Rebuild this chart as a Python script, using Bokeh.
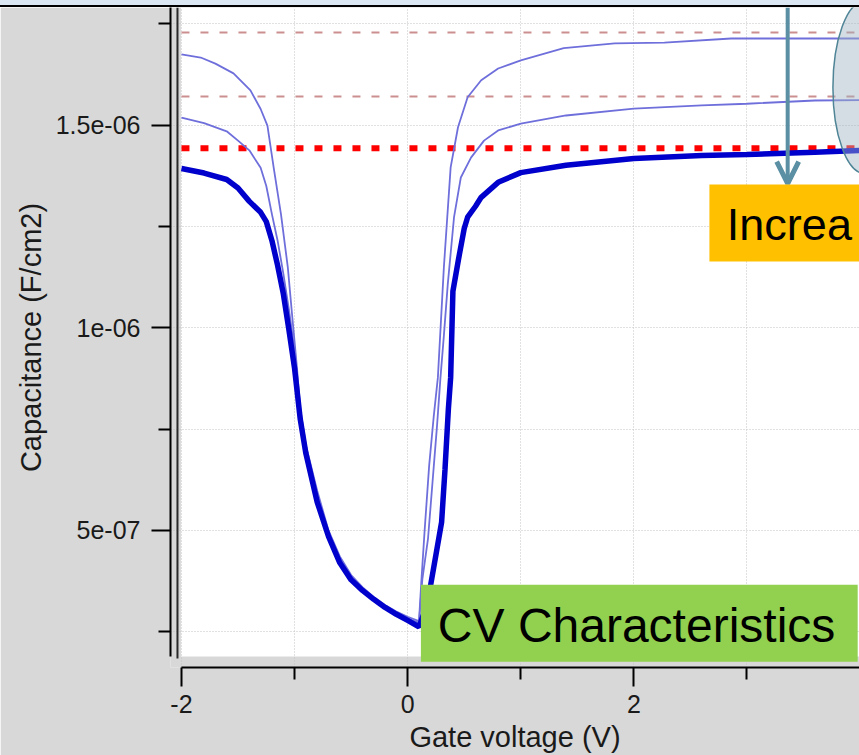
from bokeh.plotting import figure
from bokeh.layouts import column
from bokeh.models import (FixedTicker, Range1d, BoxAnnotation, Label, Arrow, OpenHead, Div)
from bokeh.embed import file_html
from bokeh.resources import INLINE

# ---------------- data ----------------
# thick curve (lowest oxide capacitance)
v_ox1 = [-2.0, -1.8, -1.6, -1.5, -1.4, -1.3, -1.25, -1.2, -1.15, -1.1, -1.05, -1.0, -0.95,
         -0.9, -0.8, -0.7, -0.6, -0.5, -0.4, -0.3, -0.2, -0.1, 0.0, 0.1, 0.15, 0.2, 0.25,
         0.3, 0.33, 0.36, 0.38, 0.4, 0.45, 0.5, 0.53, 0.6, 0.65, 0.8, 1.0, 1.4, 2.0, 2.6,
         3.0, 3.6, 4.0, 4.1]
c_ox1 = [1.393, 1.382, 1.366, 1.345, 1.312, 1.285, 1.262, 1.215, 1.154, 1.085, 0.995, 0.900,
         0.775, 0.690, 0.570, 0.485, 0.420, 0.378, 0.352, 0.330, 0.310, 0.293, 0.278, 0.262,
         0.300, 0.360, 0.440, 0.520, 0.650, 0.800, 0.877, 1.090, 1.170, 1.245, 1.273, 1.300,
         1.322, 1.359, 1.383, 1.401, 1.418, 1.425, 1.428, 1.433, 1.438, 1.439]
# middle thin curve
v_ox2 = [-2.0, -1.8, -1.6, -1.5, -1.4, -1.3, -1.25, -1.2, -1.15, -1.1, -1.05, -1.0, -0.95,
         -0.9, -0.8, -0.7, -0.6, -0.5, -0.4, -0.3, -0.2, -0.1, 0.0, 0.1, 0.13, 0.18, 0.22,
         0.26, 0.29, 0.32, 0.355, 0.41, 0.47, 0.56, 0.675, 0.8, 1.0, 1.4, 2.0, 2.6, 3.0,
         3.6, 4.0, 4.1]
c_ox2 = [1.519, 1.505, 1.485, 1.462, 1.438, 1.395, 1.350, 1.280, 1.215, 1.135, 1.045, 0.945,
         0.790, 0.700, 0.585, 0.492, 0.428, 0.384, 0.356, 0.333, 0.313, 0.297, 0.283, 0.272,
         0.380, 0.480, 0.620, 0.760, 0.877, 0.980, 1.109, 1.273, 1.371, 1.420, 1.462, 1.487,
         1.504, 1.524, 1.541, 1.549, 1.553, 1.561, 1.562, 1.562]
# top thin curve
v_ox3 = [-2.0, -1.83, -1.7, -1.54, -1.39, -1.3, -1.24, -1.185, -1.12, -1.06, -1.02, -0.98,
         -0.95, -0.9, -0.8, -0.7, -0.6, -0.5, -0.4, -0.3, -0.2, -0.1, 0.0, 0.1, 0.12, 0.15,
         0.19, 0.23, 0.267, 0.32, 0.38, 0.445, 0.53, 0.65, 0.8, 1.0, 1.38, 1.83, 2.27, 2.86,
         3.5, 4.0, 4.1]
c_ox3 = [1.675, 1.667, 1.652, 1.628, 1.586, 1.540, 1.499, 1.396, 1.280, 1.150, 1.026, 0.905,
         0.800, 0.710, 0.598, 0.500, 0.436, 0.390, 0.360, 0.336, 0.316, 0.300, 0.287, 0.276,
         0.370, 0.500, 0.660, 0.780, 0.877, 1.149, 1.396, 1.495, 1.569, 1.611, 1.640, 1.660,
         1.690, 1.702, 1.704, 1.714, 1.714, 1.714, 1.714]
cox_main = 1.443            # thick red dotted reference (x1e-6)
cox_other = [1.571, 1.729]  # thin dashed references (x1e-6)
SCALE = 1e-6

x_major = [-2, 0, 2, 4]
x_minor = [-1, 1, 3]
x_labels = {-2: "-2", 0: "0", 2: "2", 4: "4"}
y_major = [5e-7, 1e-6, 1.5e-6]
y_minor = [2.5e-7, 7.5e-7, 1.25e-6, 1.75e-6]
y_labels = {5e-7: "5e-07", 1e-6: "1e-06", 1.5e-6: "1.5e-06"}

# ---------------- figure ----------------
X0, X1 = -2.097, 3.995
Y0, Y1 = 0.1617e-6, 1.7905e-6
PLOT_LEFT = -2.005
PLOT_BOTTOM = 0.1888e-6

p = figure(width=859, height=748, output_backend="svg", toolbar_location=None,
           x_range=Range1d(X0, X1), y_range=Range1d(Y0, Y1),
           min_border_left=170, min_border_right=0, min_border_top=0, min_border_bottom=88)
GRAY = "#d8d8d8"
p.border_fill_color = GRAY
p.background_fill_color = GRAY
p.outline_line_color = None

# white plotting area
p.add_layout(BoxAnnotation(left=PLOT_LEFT, bottom=PLOT_BOTTOM, fill_color="white",
                           fill_alpha=1.0, line_alpha=0, level="image"))
# dark frame line at left of the plotting area
p.add_layout(BoxAnnotation(left=-2.0442, right=-2.0265, bottom=0.1839e-6,
                           fill_color="#2a2a2a", fill_alpha=1.0, line_alpha=0,
                           level="underlay"))

# axes
TXT = "#1a1a1a"
for ax, maj, mnr in ((p.xaxis[0], x_major, x_minor), (p.yaxis[0], y_major, y_minor)):
    ax.ticker = FixedTicker(ticks=maj, minor_ticks=mnr)
    ax.axis_line_color = "black"
    ax.axis_line_width = 2
    ax.major_tick_line_color = "black"
    ax.major_tick_line_width = 2
    ax.minor_tick_line_color = "black"
    ax.minor_tick_line_width = 2
    ax.major_tick_in = 0
    ax.major_tick_out = 19
    ax.minor_tick_in = 0
    ax.minor_tick_out = 12
    ax.major_label_text_font = "Liberation Sans"
    ax.major_label_text_font_size = "25px"
    ax.major_label_text_color = TXT
    ax.axis_label_text_font = "Liberation Sans"
    ax.axis_label_text_font_size = "29px"
    ax.axis_label_text_font_style = "normal"
    ax.axis_label_text_color = TXT

p.xaxis.axis_label = "Gate voltage (V)"
p.yaxis.axis_label = "Capacitance (F/cm2)"
p.xaxis.bounds = (-2, X1)
p.yaxis.bounds = (PLOT_BOTTOM, Y1)
p.xaxis.major_label_overrides = x_labels
p.yaxis.major_label_overrides = y_labels
p.xaxis.major_label_standoff = 8
p.yaxis.major_label_standoff = 11
p.xaxis.axis_label_standoff = 5
p.yaxis.axis_label_standoff = 6

for g in (p.xgrid[0], p.ygrid[0]):
    g.grid_line_color = "#c2c2c2"
    g.grid_line_dash = "1 2"
    g.grid_line_width = 1
    g.minor_grid_line_color = "#c2c2c2"
    g.minor_grid_line_dash = "1 2"
    g.minor_grid_line_width = 1

# reference (oxide capacitance) lines
x_ref = [v_ox1[0], v_ox1[-1]]
for c in cox_other:
    p.line(x_ref, [c * SCALE] * 2, line_color="#cc8f8f", line_width=2, line_dash="8 11")
p.line(x_ref, [cox_main * SCALE] * 2, line_color="#ff0000", line_width=6, line_dash="8 11")

# CV curves
p.line(v_ox3, [c * SCALE for c in c_ox3], line_color="#6f6fdc", line_width=1.8)
p.line(v_ox2, [c * SCALE for c in c_ox2], line_color="#6f6fdc", line_width=1.8)
p.line(v_ox1, [c * SCALE for c in c_ox1], line_color="#0000cc", line_width=5.5)

# callout ellipse (partially visible at right)
p.ellipse(x=[4.04], y=[1.5933e-6], width=0.56, height=0.4247e-6,
          fill_color="#a0b4c3", fill_alpha=0.45, line_color="#4f8596", line_width=1.5)

# arrow
ARROW_C = "#5b8fa3"
p.add_layout(Arrow(end=OpenHead(size=22, line_width=5, line_color=ARROW_C),
                   x_start=3.36, y_start=Y1, x_end=3.36, y_end=1.356e-6,
                   line_color=ARROW_C, line_width=4))

# text boxes
p.add_layout(BoxAnnotation(left=2.668, right=4.5, bottom=1.1637e-6, top=1.3538e-6,
                           fill_color="#ffc000", fill_alpha=1.0, line_alpha=0))
p.add_layout(BoxAnnotation(left=0.117, right=3.979, bottom=0.176e-6, top=0.3662e-6,
                           fill_color="#92d050", fill_alpha=1.0, line_alpha=0))
p.add_layout(Label(x=2.822, y=1.2538e-6, text="Increa", text_font="Liberation Sans",
                   text_font_size="45px", text_color="black", text_baseline="alphabetic"))
p.add_layout(Label(x=0.267, y=0.2662e-6, text="CV Characteristics",
                   text_font="Liberation Sans", text_font_size="48px", text_color="black",
                   text_baseline="alphabetic"))

# slide decoration strip at the very top
band = Div(text="", width=859, height=7, margin=0,
           styles={"background-color": "#dbe7f3", "border-bottom": "2px solid black",
                   "box-sizing": "border-box"})

layout = column(band, p, spacing=0)
open("out.html", "w").write(file_html(layout, INLINE))
